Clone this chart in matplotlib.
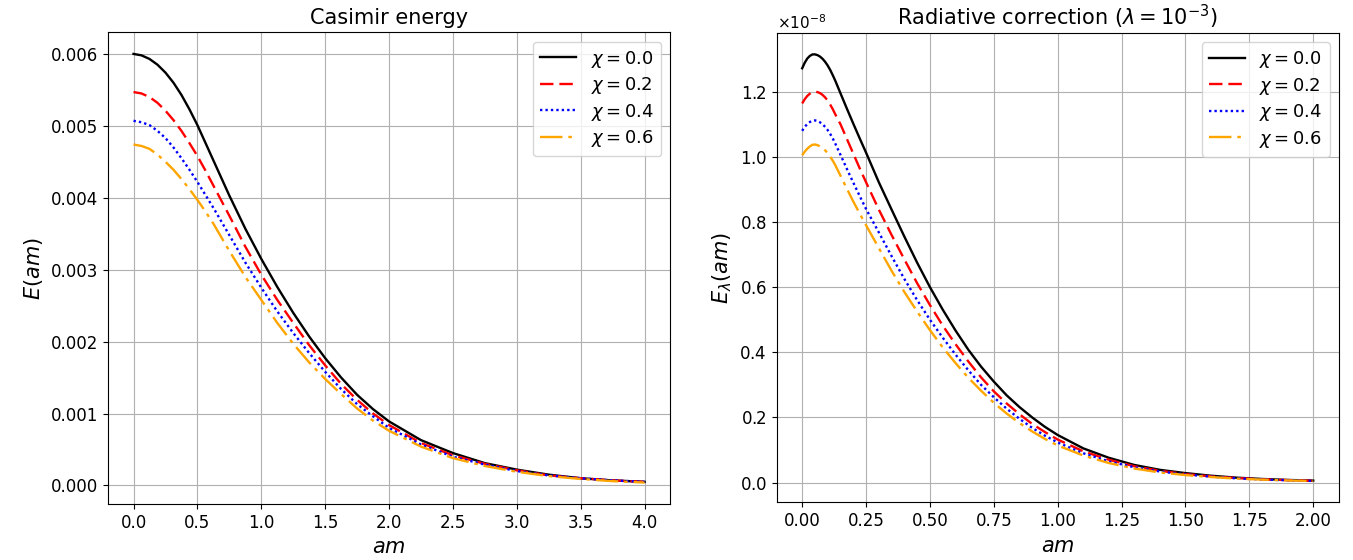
import numpy as np
import matplotlib
matplotlib.use("Agg")
import matplotlib.pyplot as plt
from matplotlib.ticker import ScalarFormatter

# left panel: Casimir energy
am_left = [0.0, 0.0625, 0.125, 0.1875, 0.25, 0.3125, 0.375, 0.4375, 0.5,
           0.5625, 0.625, 0.75, 0.875, 1.0, 1.125, 1.25, 1.375, 1.5, 1.625,
           1.75, 1.875, 2.0, 2.25, 2.5, 2.75, 3.0, 3.25, 3.5, 3.75, 4.0]
E_chi00 = [0.00600, 0.00598, 0.00593, 0.00585, 0.00574, 0.00560, 0.00543,
           0.00523, 0.00501, 0.004765, 0.00452, 0.00403, 0.00357, 0.00315,
           0.00276, 0.00240, 0.00207, 0.00177, 0.00150, 0.00126, 0.00106,
           0.00089, 0.00063, 0.00045, 0.00031, 0.00022, 0.00015, 0.00010,
           0.00007, 0.00005]
E_chi02 = [0.00547, 0.00545, 0.00540, 0.00532, 0.00521, 0.00508, 0.00493,
           0.00476, 0.00458, 0.00438, 0.00417, 0.00375, 0.00332, 0.00293,
           0.00258, 0.00226, 0.00195, 0.00167, 0.00141, 0.00119, 0.00100,
           0.00084, 0.00059, 0.00042, 0.00030, 0.00021, 0.00014, 0.00010,
           0.00007, 0.00005]
E_chi04 = [0.00507, 0.00505, 0.00501, 0.00493, 0.00483, 0.00470, 0.00455,
           0.00439, 0.00422, 0.00404, 0.00386, 0.00348, 0.00310, 0.00275,
           0.00242, 0.00212, 0.00184, 0.00158, 0.00134, 0.00113, 0.00096,
           0.00080, 0.00057, 0.00040, 0.00029, 0.00020, 0.00014, 0.00010,
           0.00007, 0.00005]
E_chi06 = [0.00474, 0.00472, 0.00468, 0.00460, 0.00450, 0.00439, 0.00426,
           0.00412, 0.00397, 0.00381, 0.00364, 0.00326, 0.00290, 0.00258,
           0.00226, 0.00197, 0.00171, 0.00148, 0.00127, 0.00107, 0.00090,
           0.00076, 0.00054, 0.00038, 0.00027, 0.00019, 0.00013, 0.00009,
           0.00006, 0.00004]

# right panel: radiative correction, in units of 1e-8
am_right = [0.0, 0.01, 0.02, 0.03, 0.04, 0.05, 0.06, 0.07, 0.08, 0.09, 0.1,
            0.11, 0.12, 0.13, 0.15, 0.175, 0.2, 0.225, 0.25, 0.3, 0.35, 0.4,
            0.45, 0.5, 0.55, 0.6, 0.65, 0.7, 0.75, 0.8, 0.85, 0.9, 0.95, 1.0,
            1.1, 1.2, 1.3, 1.4, 1.5, 1.6, 1.7, 1.8, 1.9, 2.0]
R_chi00 = [1.272, 1.289, 1.302, 1.310, 1.3145, 1.3147, 1.3124, 1.3078,
           1.3009, 1.2917, 1.2802, 1.2664, 1.2503, 1.233, 1.195, 1.148, 1.102,
           1.057, 1.013, 0.922, 0.838, 0.755, 0.675, 0.600, 0.531, 0.467,
           0.408, 0.356, 0.310, 0.268, 0.232, 0.200, 0.171, 0.146, 0.105,
           0.076, 0.054, 0.039, 0.029, 0.021, 0.015, 0.011, 0.008, 0.006]
R_chi02 = [1.164, 1.177, 1.187, 1.194, 1.1986, 1.200, 1.1989, 1.1956, 1.190,
           1.1824, 1.1725, 1.160, 1.146, 1.130, 1.100, 1.055, 1.010, 0.965,
           0.922, 0.838, 0.760, 0.685, 0.612, 0.545, 0.482, 0.425, 0.372,
           0.323, 0.280, 0.243, 0.210, 0.180, 0.155, 0.132, 0.096, 0.070,
           0.050, 0.036, 0.026, 0.019, 0.014, 0.010, 0.0075, 0.0055]
R_chi04 = [1.080, 1.092, 1.101, 1.107, 1.111, 1.112, 1.110, 1.106, 1.100,
           1.092, 1.082, 1.070, 1.056, 1.040, 1.006, 0.963, 0.921, 0.880,
           0.840, 0.768, 0.695, 0.625, 0.560, 0.500, 0.445, 0.393, 0.345,
           0.300, 0.262, 0.227, 0.196, 0.168, 0.144, 0.123, 0.090, 0.065,
           0.047, 0.034, 0.025, 0.018, 0.013, 0.0095, 0.007, 0.005]
R_chi06 = [1.005, 1.016, 1.025, 1.032, 1.037, 1.038, 1.036, 1.032, 1.027,
           1.020, 1.011, 1.000, 0.988, 0.974, 0.942, 0.902, 0.863, 0.826,
           0.790, 0.720, 0.650, 0.585, 0.525, 0.468, 0.415, 0.367, 0.322,
           0.282, 0.245, 0.212, 0.183, 0.157, 0.134, 0.114, 0.083, 0.060,
           0.043, 0.031, 0.023, 0.017, 0.012, 0.009, 0.0065, 0.0048]

chi_labels = [r"$\chi = 0.0$", r"$\chi = 0.2$", r"$\chi = 0.4$", r"$\chi = 0.6$"]
colors = ["black", "red", "blue", "orange"]
# dash patterns a bit longer than matplotlib's defaults, like the original
styles = ["-", (0, (5.7, 2.5)), (0, (1, 1.3)), (0, (9.5, 2.5, 1.5, 2.5))]

fig = plt.figure(figsize=(13.53, 5.6), dpi=100)
ax1 = fig.add_axes([0.0798, 0.100, 0.4155, 0.842])
ax2 = fig.add_axes([0.574, 0.103, 0.4155, 0.838])

for y, lab, c, ls in zip([E_chi00, E_chi02, E_chi04, E_chi06], chi_labels, colors, styles):
    ax1.plot(am_left, y, color=c, linestyle=ls, linewidth=1.7, label=lab)

for y, lab, c, ls in zip([R_chi00, R_chi02, R_chi04, R_chi06], chi_labels, colors, styles):
    ax2.plot(am_right, np.array(y) * 1e-8, color=c, linestyle=ls, linewidth=1.7, label=lab)

ax1.set_title("Casimir energy", fontsize=15)
ax1.set_xlabel(r"$am$", fontsize=15)
ax1.set_ylabel(r"$E(am)$", fontsize=15)
ax1.set_xticks(np.arange(0, 4.01, 0.5))

ax2.set_title(r"Radiative correction ($\lambda = 10^{-3}$)", fontsize=15)
ax2.set_xlabel(r"$am$", fontsize=15)
ax2.set_ylabel(r"$E_\lambda(am)$", fontsize=15)
ax2.set_xticks(np.arange(0, 2.01, 0.25))
fmt = ScalarFormatter(useMathText=True)
ax2.yaxis.set_major_formatter(fmt)

for ax in (ax1, ax2):
    ax.grid(True)
    ax.tick_params(labelsize=12)
    ax.yaxis.get_offset_text().set_fontsize(11)
    ax.legend(loc="upper right", fontsize=13, labelspacing=0.3)

fig.savefig("out.png", dpi=100)
